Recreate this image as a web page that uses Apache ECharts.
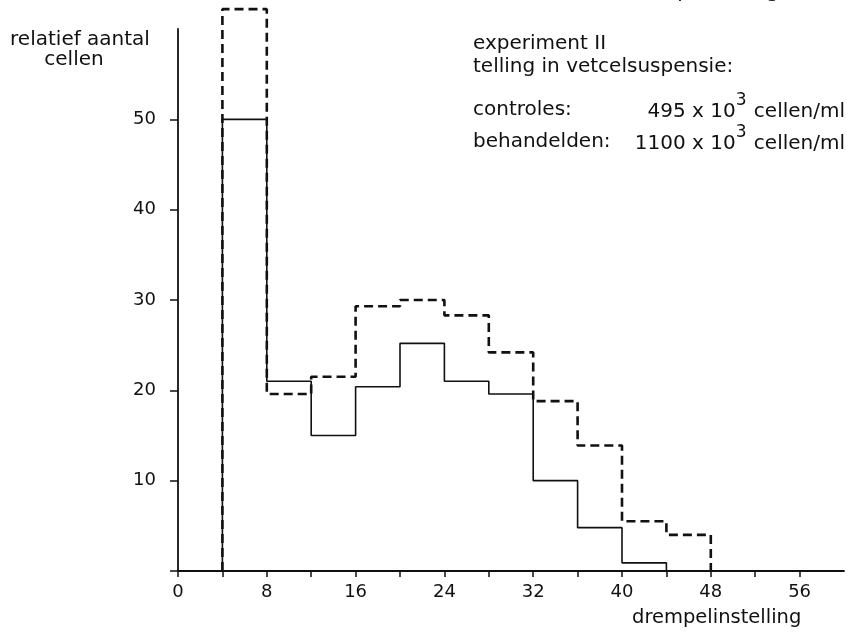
<!DOCTYPE html>
<html>
<head>
<meta charset="utf-8">
<script src="https://cdn.jsdelivr.net/npm/echarts@6/dist/echarts.min.js"></script>
<style>
  html, body { margin: 0; padding: 0; background: #fff; }
  #chart { width: 847px; height: 638px; }
</style>
</head>
<body>
<div id="chart"></div>
<script>
// Threshold setting (drempelinstelling): bins of width 4, the first one starting at 4
const binStart = 4;
const binWidth = 4;

// Relative number of cells per bin
const controles   = [50, 21, 15, 20.4, 25.2, 21, 19.6, 10, 4.8, 0.9];
const behandelden = [62.2, 19.6, 21.5, 29.3, 30, 28.3, 24.2, 18.8, 13.9, 5.5, 4.0];

// Axis ticks and labels
const xTickValues  = [0, 4, 8, 12, 16, 20, 24, 28, 32, 36, 40, 44, 48, 52, 56];
const xLabelValues = [0, 8, 16, 24, 32, 40, 48, 56];
const yTickValues  = [0, 10, 20, 30, 40, 50];
const yLabelValues = [10, 20, 30, 40, 50];

const INK = '#111';
const FONT = '"DejaVu Sans", sans-serif';

// Turn per-bin values into the outline of a step histogram
function outline(values) {
  const pts = [[binStart, 0]];
  values.forEach((v, i) => {
    const x0 = binStart + i * binWidth;
    pts.push([x0, v], [x0 + binWidth, v]);
  });
  pts.push([binStart + values.length * binWidth, 0]);
  return pts;
}

// Text with a raised exponent
const supRich = {
  n: { fontSize: 20, fontFamily: FONT, color: INK, verticalAlign: 'bottom' },
  s: { fontSize: 17, fontFamily: FONT, color: INK, verticalAlign: 'bottom', padding: [0, 1, 13, 0] }
};

const chart = echarts.init(document.getElementById('chart'), null, { renderer: 'canvas' });

chart.setOption({
  animation: false,
  backgroundColor: '#fff',
  grid: { left: 178, right: 3, top: 29, bottom: 67, containLabel: false },
  xAxis: {
    type: 'value',
    min: 0,
    max: 60,
    splitLine: { show: false },
    axisLine: { show: true, onZero: false, lineStyle: { color: INK, width: 1.8 } },
    axisTick: { show: true, customValues: xTickValues, length: 6, lineStyle: { color: INK, width: 1.5 } },
    axisLabel: {
      customValues: xLabelValues,
      color: INK, fontSize: 18, fontFamily: FONT, margin: 12
    }
  },
  yAxis: {
    type: 'value',
    min: 0,
    max: 60,
    splitLine: { show: false },
    axisLine: { show: true, onZero: false, lineStyle: { color: INK, width: 1.8 } },
    axisTick: { show: true, customValues: yTickValues, length: 8, lineStyle: { color: INK, width: 1.5 } },
    axisLabel: {
      customValues: yLabelValues,
      color: INK, fontSize: 18, fontFamily: FONT, margin: 22
    }
  },
  series: [
    {
      name: 'behandelden',
      type: 'line',
      data: outline(behandelden),
      symbol: 'none',
      clip: false,
      lineStyle: { color: INK, width: 2.6, type: [9, 5] },
      z: 2
    },
    {
      name: 'controles',
      type: 'line',
      data: outline(controles),
      symbol: 'none',
      clip: false,
      lineStyle: { color: INK, width: 1.6 },
      z: 3
    }
  ],
  graphic: [
    // partially visible heading line at the very top
    { type: 'text', left: 608, top: -18, style: { text: 'aantal per telling', font: '20px ' + FONT, fill: INK } },
    // y-axis title
    { type: 'text', x: 80, y: 40, style: { text: 'relatief aantal', font: '20px ' + FONT, fill: INK, align: 'center', verticalAlign: 'middle' } },
    { type: 'text', x: 74, y: 60, style: { text: 'cellen', font: '20px ' + FONT, fill: INK, align: 'center', verticalAlign: 'middle' } },
    // x-axis title
    { type: 'text', x: 632, y: 618, style: { text: 'drempelinstelling', font: '19.5px ' + FONT, fill: INK, align: 'left', verticalAlign: 'middle' } },
    // annotation block
    { type: 'text', x: 473, y: 44, style: { text: 'experiment II', font: '20px ' + FONT, fill: INK, verticalAlign: 'middle' } },
    { type: 'text', x: 473, y: 67, style: { text: 'telling in vetcelsuspensie:', font: '20px ' + FONT, fill: INK, verticalAlign: 'middle' } },
    { type: 'text', x: 473, y: 110, style: { text: 'controles:', font: '20px ' + FONT, fill: INK, verticalAlign: 'middle' } },
    { type: 'text', x: 473, y: 142, style: { text: 'behandelden:', font: '20px ' + FONT, fill: INK, verticalAlign: 'middle' } },
    {
      type: 'text', x: 845, y: 122,
      style: { text: '{n|495 x 10}{s|3}{n| cellen/ml}', align: 'right', verticalAlign: 'bottom', fill: INK, rich: supRich }
    },
    {
      type: 'text', x: 845, y: 154,
      style: { text: '{n|1100 x 10}{s|3}{n| cellen/ml}', align: 'right', verticalAlign: 'bottom', fill: INK, rich: supRich }
    }
  ]
});
</script>
</body>
</html>
